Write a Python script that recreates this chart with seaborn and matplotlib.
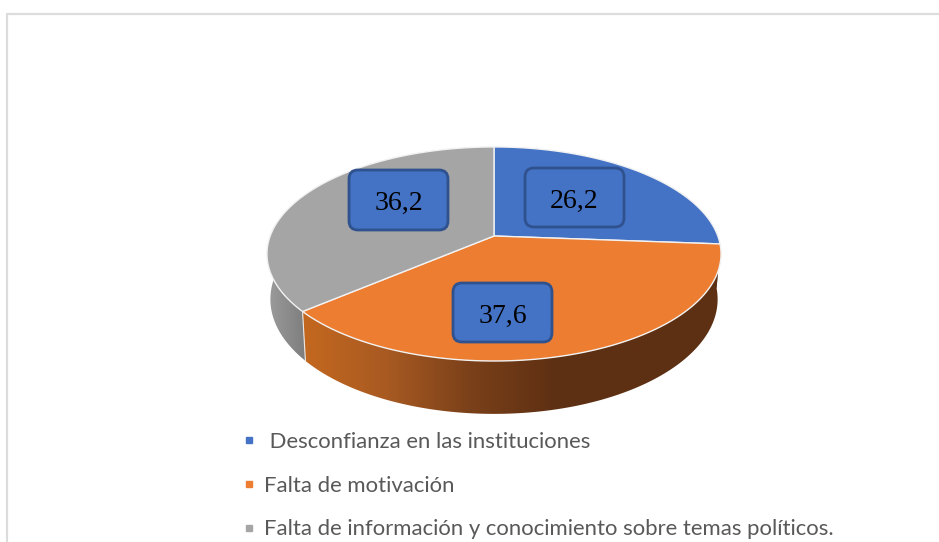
import numpy as np
import matplotlib
matplotlib.use("Agg")
import matplotlib.pyplot as plt
from matplotlib.lines import Line2D
from matplotlib.patches import FancyBboxPatch, Polygon
import seaborn as sns

# Data
categories = [" Desconfianza en las instituciones", "Falta de motivación",
              "Falta de información y conocimiento sobre temas políticos."]
values = [26.2, 37.6, 36.2]
value_labels = ["26,2", "37,6", "36,2"]
colors = ["#4472C4", "#ED7D31", "#A5A5A5"]

sns.set_theme(style="white")

fig = plt.figure(figsize=(9.39, 5.42), dpi=100)
ax = fig.add_axes([0, 0, 1, 1])

# Chart frame, only left and top are visible in the crop
ax.plot([7, 7, 939], [542, 14, 14], color="#DCDCDC", lw=1.6)


# Tilted disc: perspective projection of a unit circle, angle clockwise from top
def project(theta, drop=False):
    x, y = np.sin(theta), np.cos(theta)
    w = 1 + 0.168 * y
    px = 494 + 223.8 * x / w
    py = 236 - 104 * y / w
    if drop:
        px = 494 + 0.985 * (px - 494)
        py = py + 44 / w
    return px, py


edges = np.cumsum([0] + values) / sum(values) * 2 * np.pi

# Side wall, a horizontal gradient clipped to the shape of each slice
wall_shades = [sns.blend_palette(["#2F528F", "#223A66"], 256),
               sns.blend_palette(["#C4681F", "#A85A22", "#7A4019", "#5E3013", "#5E3013"], 256),
               sns.blend_palette(["#9C9C9C", "#7E7E7E"], 256)]
wall_range = [(494, 721), (302, 640), (267, 305)]
for i in [0, 2, 1]:
    th = np.linspace(edges[i], edges[i + 1], 240)
    x0, y0 = project(th)
    x1, y1 = project(th, drop=True)
    shape = Polygon(np.c_[np.r_[x0, x1[::-1]], np.r_[y0, y1[::-1]]], closed=True,
                    transform=ax.transData, facecolor="none", edgecolor="none")
    ax.add_patch(shape)
    img = ax.imshow(np.array(wall_shades[i])[None, :, :], extent=[wall_range[i][0], wall_range[i][1], 542, 0],
                    aspect="auto", zorder=2, interpolation="bilinear")
    # the gradient stops at its range, keep the last shade beyond it
    ax.imshow(np.array(wall_shades[i])[None, -1:, :], extent=[wall_range[i][1], 939, 542, 0],
              aspect="auto", zorder=2).set_clip_path(shape)
    img.set_clip_path(shape)

# Top face
for i in range(3):
    th = np.linspace(edges[i], edges[i + 1], 200)
    px, py = project(th)
    ax.fill(np.r_[494, px], np.r_[236, py], facecolor=colors[i], edgecolor="#F2F2F2", lw=1.0,
            joinstyle="round", zorder=3)

# Lighter seam between the orange and grey wall
sx0, sy0 = project(edges[2])
sx1, sy1 = project(edges[2], drop=True)
ax.plot([sx0, sx1], [sy0, sy1], color="#E8E8E8", lw=0.8, zorder=3)

# Data labels
label_boxes = [(525, 168, 99, 59), (453, 283, 99, 59), (349, 170, 99, 60)]
for (bx, by, bw, bh), txt in zip(label_boxes, value_labels):
    ax.add_patch(FancyBboxPatch((bx + 9, by + 9), bw - 18, bh - 18, boxstyle="round,pad=9,rounding_size=9",
                                facecolor="#4472C4", edgecolor="#2F528F", lw=2, zorder=4))
    ax.text(bx + bw / 2, by + bh / 2 + 3.5, txt, ha="center", va="center", color="black",
            family="Liberation Serif", fontsize=20, zorder=5)

ax.set_xlim(0, 939)
ax.set_ylim(542, 0)
ax.axis("off")

handles = [Line2D([], [], ls="none", marker="s", ms=5, color=c) for c in colors]
ax.legend(handles, categories, loc="upper left", bbox_to_anchor=(238 / 939, 1 - 432 / 542),
          frameon=False, prop={"family": "Lato", "size": 15.9}, labelcolor="#595959",
          labelspacing=1.07, handletextpad=0.2, handlelength=1.0, borderpad=0, borderaxespad=0)

fig.savefig("out.png", dpi=100)
